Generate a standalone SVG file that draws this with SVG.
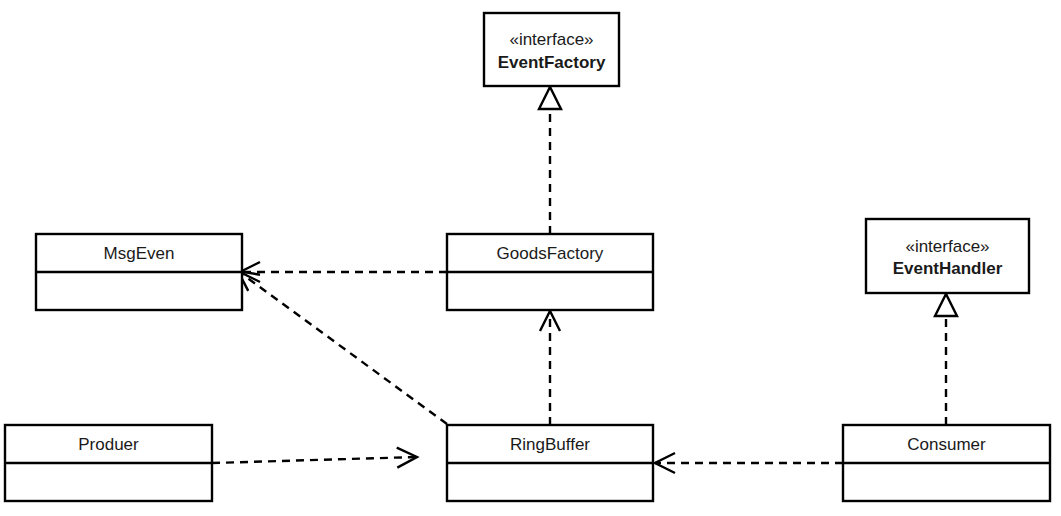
<svg xmlns="http://www.w3.org/2000/svg" width="1061" height="516" viewBox="0 0 1061 516">
<defs>
<style>
.box{fill:#fff;stroke:#000;stroke-width:2.4}
.div{stroke:#000;stroke-width:2.4}
.t{font-family:"Liberation Sans",Arial,sans-serif;font-size:17px;fill:#1a1a1a;text-anchor:middle}
.b{font-weight:bold}
.dep{fill:none;stroke:#000;stroke-width:2.4;stroke-dasharray:8 6}
</style>
<marker id="open" markerUnits="userSpaceOnUse" markerWidth="24" markerHeight="24" viewBox="-2 -2 24 24" refX="20" refY="10" orient="auto" overflow="visible">
<path d="M0,0 L20,10 L0,20" fill="none" stroke="#000" stroke-width="2.4"/>
</marker>
<marker id="tri" markerUnits="userSpaceOnUse" markerWidth="26" markerHeight="26" viewBox="-2 -2 26 26" refX="22" refY="11" orient="auto" overflow="visible">
<path d="M0,0 L22,11 L0,22 Z" fill="#fff" stroke="#000" stroke-width="2.4"/>
</marker>
</defs>
<g id="connectors">
<path class="dep" d="M550,234 L550,87" marker-end="url(#tri)"/>
<path class="dep" d="M946,425 L946,294" marker-end="url(#tri)"/>
<path class="dep" d="M447,272 L240,272" marker-end="url(#open)"/>
<path class="dep" d="M447,424 L238,271" marker-end="url(#open)"/>
<path class="dep" d="M550,425 L550,311" marker-end="url(#open)"/>
<path class="dep" d="M212,463 L417,457" marker-end="url(#open)"/>
<path class="dep" d="M843,463 L655,463" marker-end="url(#open)"/>
</g>
<g id="EventFactory">
<rect class="box" x="484" y="13" width="135" height="73"/>
<text class="t" x="551.5" y="45">«interface»</text>
<text class="t b" x="551.5" y="68">EventFactory</text>
</g>
<g id="EventHandler">
<rect class="box" x="866" y="219" width="163" height="74"/>
<text class="t" x="947.5" y="252">«interface»</text>
<text class="t b" x="947.5" y="274">EventHandler</text>
</g>
<g id="MsgEven">
<rect class="box" x="36" y="234" width="206" height="76"/>
<line class="div" x1="36" y1="272" x2="242" y2="272"/>
<text class="t" x="139" y="259">MsgEven</text>
</g>
<g id="GoodsFactory">
<rect class="box" x="447" y="234" width="206" height="76"/>
<line class="div" x1="447" y1="272" x2="653" y2="272"/>
<text class="t" x="550" y="259">GoodsFactory</text>
</g>
<g id="Produer">
<rect class="box" x="5" y="425" width="207" height="76"/>
<line class="div" x1="5" y1="463" x2="212" y2="463"/>
<text class="t" x="108.5" y="450">Produer</text>
</g>
<g id="RingBuffer">
<rect class="box" x="447" y="425" width="206" height="76"/>
<line class="div" x1="447" y1="463" x2="653" y2="463"/>
<text class="t" x="550" y="450">RingBuffer</text>
</g>
<g id="Consumer">
<rect class="box" x="843" y="425" width="207" height="76"/>
<line class="div" x1="843" y1="463" x2="1050" y2="463"/>
<text class="t" x="946.5" y="450">Consumer</text>
</g>
</svg>
